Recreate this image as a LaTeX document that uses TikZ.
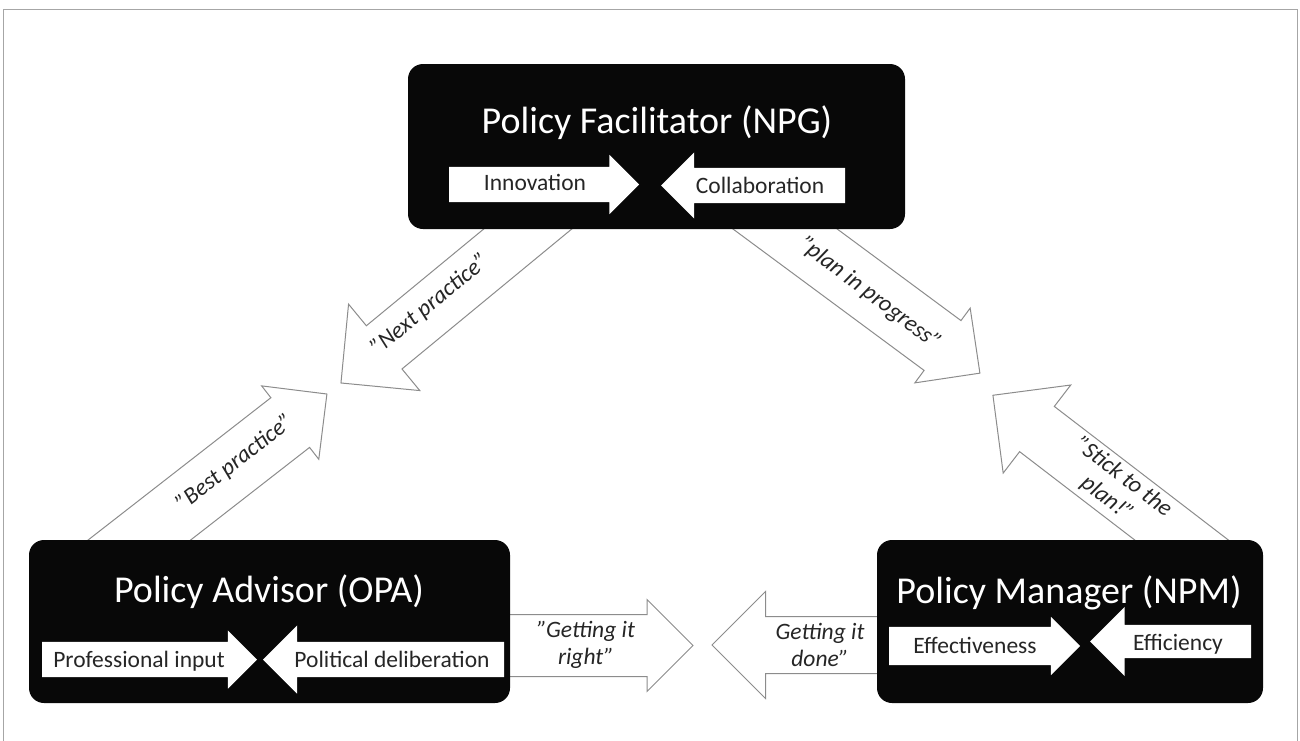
\documentclass[tikz,border=0pt]{standalone}
\usepackage{fontspec}
\setmainfont{Carlito}
\usetikzlibrary{shapes.arrows}

\begin{document}
\begin{tikzpicture}[
  x=1pt, y=-1pt,
  rolebox/.style={rectangle, rounded corners=15pt, fill=black!97, inner sep=0pt},
  roletitle/.style={text=white, font=\fontsize{38}{44}\selectfont, anchor=base, inner sep=0pt},
  flow/.style={single arrow, draw=black!45, fill=white, line width=1pt, inner sep=0pt,
    outer sep=0pt, anchor=tail},
  inflow/.style={single arrow, fill=white, inner sep=0pt, outer sep=0pt, anchor=tail},
  value/.style={text=black!85, font=\fontsize{23.5}{27}\selectfont, anchor=base, inner sep=0pt},
  motto/.style={text=black!85, font=\fontsize{23.5}{27}\selectfont\itshape, align=center, inner sep=0pt}
  ]
\useasboundingbox (0,0) rectangle (1300,740);

% Frame
\draw[black!35, line width=1pt] (3,745) -- (3,9) -- (1297,9) -- (1297,745);

% Arrows between the roles (tails hidden under the boxes)
\node[flow, rotate=219.5, minimum height=290.5, inner ysep=27.5, single arrow head extend=28] (nextarr) at (565.1,198.2) {};
\node[flow, rotate=37.9, minimum height=284.4, inner ysep=31, single arrow head extend=15] (bestarr) at (102.5,568.7) {};
\node[flow, rotate=-36.5, minimum height=290.6, inner ysep=30.5, single arrow head extend=15.5] (planarr) at (746.3,200.3) {};
\node[flow, rotate=142.5, minimum height=284.6, inner ysep=28, single arrow head extend=27] (stickarr) at (1218.7,568.5) {};
\node[flow, minimum height=193, inner ysep=30.5, single arrow head extend=15] (rightarr) at (500,645.5) {};
\node[flow, rotate=180, minimum height=178, inner ysep=28, single arrow head extend=25] (donearr) at (890,645) {};

\node[motto, rotate=39.5] (nextlbl) at (430,305) {”Next practice”};
\node[motto, rotate=38] (bestlbl) at (235,463) {”Best practice”};
\node[motto, rotate=-37] (planlbl) at (870,294) {”plan in progress”};
\node[motto, rotate=-37.5] (sticklbl) at (1115,488) {”Stick to the\\plan!”};
\node[motto] (rightlbl) at (586,645) {”Getting it\\right”};
\node[motto] (donelbl) at (820,645) {Getting it\\done”};

% Policy Facilitator
\node[rolebox, minimum width=497, minimum height=165] (npg) at (656.5,146.5) {};
\node[roletitle] (npgtitle) at (657,133) {Policy Facilitator (NPG)};
\node[inflow, minimum height=190, inner ysep=17.5, single arrow head extend=12] (innov) at (449,184.5) {};
\node[inflow, rotate=180, minimum height=184, inner ysep=17.5, single arrow head extend=15.5] (collab) at (845,185.5) {};
\node[value] (innovlbl) at (535,190) {Innovation};
\node[value] (collablbl) at (760,193) {Collaboration};

% Policy Advisor
\node[rolebox, minimum width=481, minimum height=163] (opa) at (269.5,621.5) {};
\node[roletitle] (opatitle) at (269,602) {Policy Advisor (OPA)};
\node[inflow, minimum height=215, inner ysep=17.5, single arrow head extend=11.5] (profin) at (42,659.5) {};
\node[inflow, rotate=180, minimum height=241, inner ysep=17.5, single arrow head extend=16.5] (poldel) at (504,659.5) {};
\node[value] (profinlbl) at (139,667) {Professional input};
\node[value] (poldellbl) at (392,667) {Political deliberation};

% Policy Manager
\node[rolebox, minimum width=386, minimum height=163] (npm) at (1070,621.5) {};
\node[roletitle] (npmtitle) at (1069,603) {Policy Manager (NPM)};
\node[inflow, minimum height=191, inner ysep=19, single arrow head extend=10] (effect) at (889,646) {};
\node[inflow, rotate=180, minimum height=161, inner ysep=16.5, single arrow head extend=18] (effic) at (1251,641.5) {};
\node[value] (effectlbl) at (975,653) {Effectiveness};
\node[value] (efficlbl) at (1178,650) {Efficiency};

\end{tikzpicture}
\end{document}
